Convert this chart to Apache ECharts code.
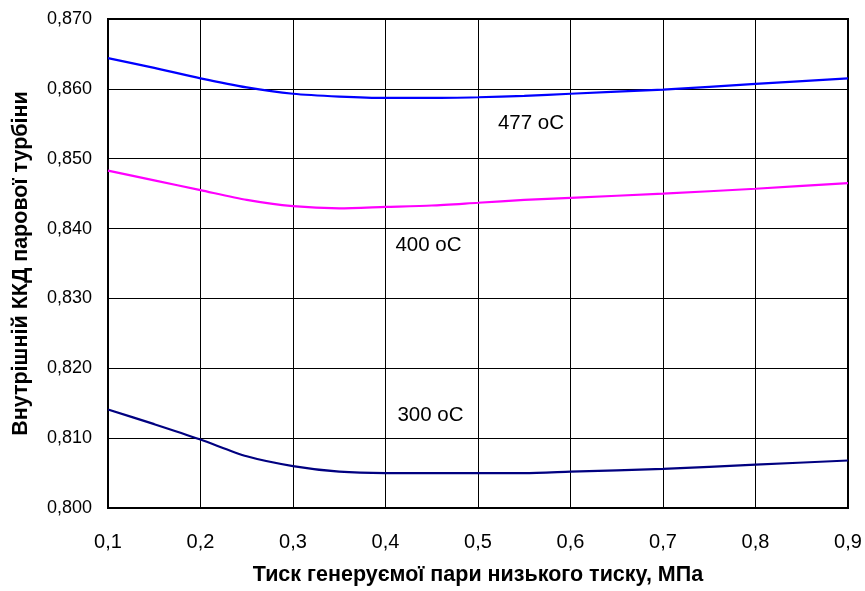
<!DOCTYPE html>
<html>
<head>
<meta charset="utf-8">
<script src="https://cdn.jsdelivr.net/npm/echarts@6/dist/echarts.min.js"></script>
<style>
  html, body { margin: 0; padding: 0; background: #fff; }
  #chart { width: 865px; height: 591px; }
</style>
</head>
<body>
<div id="chart"></div>
<script>
// Pressure of generated low-pressure steam, MPa
const pressure = [0.1, 0.15, 0.2, 0.25, 0.3, 0.35, 0.4, 0.45, 0.5, 0.55, 0.6, 0.7, 0.8, 0.9];

// Internal efficiency of the steam turbine for three steam temperatures
const eff477 = [0.8644, 0.8630, 0.8615, 0.8602, 0.8593, 0.8589, 0.8587, 0.8587, 0.8588, 0.8590, 0.8593, 0.8599, 0.8607, 0.8615];
const eff400 = [0.8483, 0.8469, 0.8455, 0.8441, 0.8432, 0.8429, 0.8431, 0.8433, 0.8437, 0.8441, 0.8444, 0.8450, 0.8457, 0.8465];
const eff300 = [0.8141, 0.8120, 0.8098, 0.8074, 0.8060, 0.8052, 0.8050, 0.8050, 0.8050, 0.8050, 0.8052, 0.8056, 0.8062, 0.8068];

const seriesNames = ['477 oC', '400 oC', '300 oC'];

const FONT = 'Liberation Sans, Arial, sans-serif';

function pairs(ys) {
  return pressure.map((x, i) => [x, ys[i]]);
}

function curve(name, ys, color, labelCoord) {
  return {
    name: name,
    type: 'line',
    data: pairs(ys),
    smooth: 0.25,
    symbol: 'none',
    lineStyle: { color: color, width: 2.2 },
    z: 5,
    markPoint: {
      symbol: 'circle',
      symbolSize: 0,
      silent: true,
      label: {
        show: true,
        position: 'inside',
        formatter: name,
        color: '#000',
        fontFamily: FONT,
        fontSize: 20.5
      },
      data: [{ coord: labelCoord }]
    }
  };
}

const chart = echarts.init(document.getElementById('chart'), null, { renderer: 'canvas' });

chart.setOption({
  animation: false,
  backgroundColor: '#fff',
  grid: {
    left: 108, right: 17, top: 19, bottom: 81,
    show: true,
    borderColor: '#000',
    borderWidth: 2,
    backgroundColor: 'transparent'
  },
  xAxis: {
    type: 'value',
    min: 0.1, max: 0.9, interval: 0.1,
    name: 'Тиск генеруємої пари низького тиску, МПа',
    nameLocation: 'middle',
    nameGap: 56,
    nameTextStyle: { fontFamily: FONT, fontSize: 21.5, fontWeight: 'bold', color: '#000' },
    axisLine: { show: true, lineStyle: { color: '#000', width: 2 } },
    axisTick: { show: false },
    axisLabel: {
      margin: 24,
      fontFamily: FONT, fontSize: 20, color: '#000',
      formatter: v => v.toFixed(1).replace('.', ',')
    },
    splitLine: { show: true, lineStyle: { color: '#000', width: 1 } }
  },
  yAxis: {
    type: 'value',
    min: 0.8, max: 0.87, interval: 0.01,
    name: 'Внутрішній ККД парової турбіни',
    nameLocation: 'middle',
    nameGap: 76,
    nameRotate: 90,
    nameTextStyle: { fontFamily: FONT, fontSize: 21.5, fontWeight: 'bold', color: '#000' },
    axisLine: { show: true, lineStyle: { color: '#000', width: 2 } },
    axisTick: { show: false },
    axisLabel: {
      margin: 16,
      fontFamily: FONT, fontSize: 18, color: '#000',
      formatter: v => v.toFixed(3).replace('.', ',')
    },
    splitLine: { show: true, lineStyle: { color: '#000', width: 1 } }
  },
  series: [
    curve(seriesNames[0], eff477, '#0000FF', [0.5573, 0.8550]),
    curve(seriesNames[1], eff400, '#FF00FF', [0.4465, 0.8376]),
    curve(seriesNames[2], eff300, '#000080', [0.4486, 0.8133])
  ]
});
</script>
</body>
</html>
